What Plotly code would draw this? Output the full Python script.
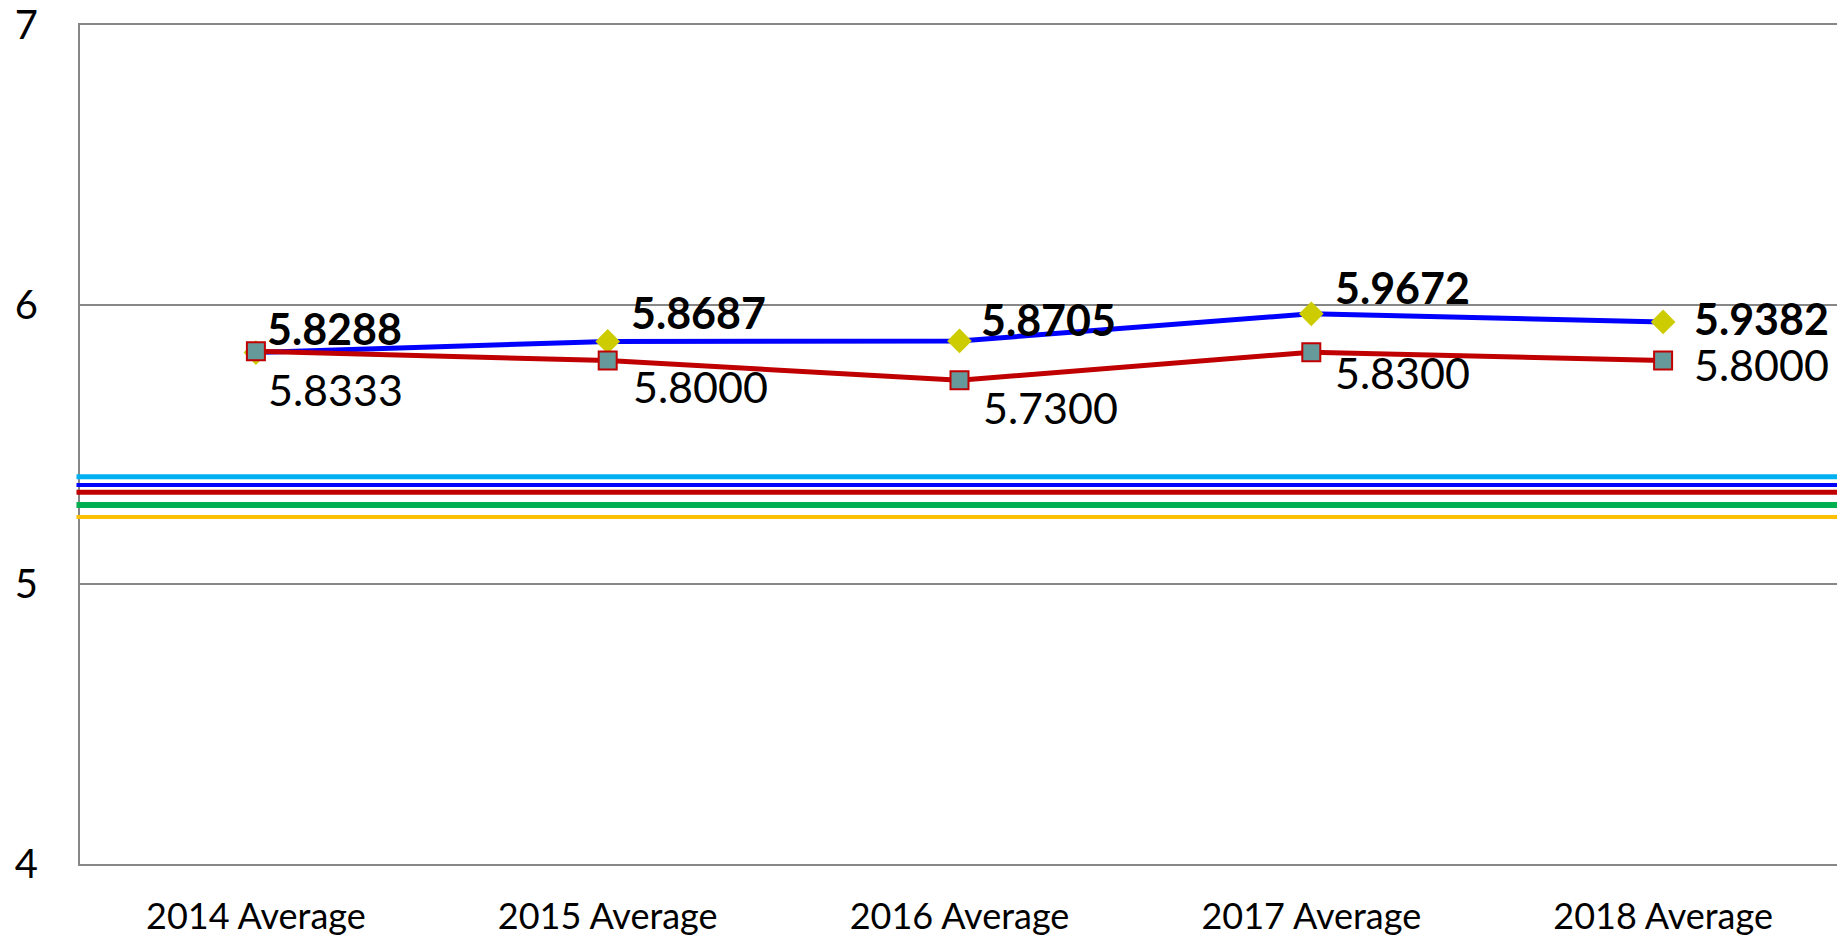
import plotly.graph_objects as go

categories = ["2014 Average", "2015 Average", "2016 Average", "2017 Average", "2018 Average"]
series_a = [5.8288, 5.8687, 5.8705, 5.9672, 5.9382]   # blue line, diamond markers
series_b = [5.8333, 5.8000, 5.7300, 5.8300, 5.8000]   # red line, square markers
ref_values = [5.385, 5.355, 5.329, 5.284, 5.241]
ref_colors = ["#00B0F0", "#0000FF", "#C00000", "#00B050", "#FFC000"]
ref_widths = [5, 4, 5, 6, 4]
y_ticks = [4, 5, 6, 7]

# label offsets (pixels): (dx to left edge, dy of centre; positive = down)
off_a = [(9, -24), (21, -29), (19, -21), (22, -26), (29, -3)]
off_b = [(10, 38), (23, 26), (21, 27), (22, 20), (29, 4)]

FONT = "Lato"

fig = go.Figure()

for v, c, w in zip(ref_values, ref_colors, ref_widths):
    fig.add_shape(type="line", xref="paper", yref="y", x0=-0.002, x1=1.0, y0=v, y1=v,
                  line=dict(color=c, width=w), layer="above")

fig.add_trace(go.Scatter(x=categories, y=series_a, mode="lines+markers",
                         line=dict(color="#0000FF", width=5),
                         marker=dict(symbol="diamond", size=19, color="#CCCC00",
                                     line=dict(color="#CCCC00", width=0)),
                         showlegend=False))
fig.add_trace(go.Scatter(x=categories, y=series_b, mode="lines+markers",
                         line=dict(color="#C00000", width=5),
                         marker=dict(symbol="square", size=18, color="#669999",
                                     line=dict(color="#C00000", width=2)),
                         showlegend=False))

for i, (c, v) in enumerate(zip(categories, series_a)):
    dx, dy = off_a[i]
    fig.add_annotation(x=c, y=v, text="<b>%.4f</b>" % v, showarrow=False,
                       xanchor="left", yanchor="middle", xshift=dx, yshift=-dy,
                       font=dict(family=FONT, size=43, color="black"))
for i, (c, v) in enumerate(zip(categories, series_b)):
    dx, dy = off_b[i]
    fig.add_annotation(x=c, y=v, text="%.4f" % v, showarrow=False,
                       xanchor="left", yanchor="middle", xshift=dx, yshift=-dy,
                       font=dict(family=FONT, size=43, color="black"))

# page body has an 8px margin; compensate so the plot sits where the reference does
fig.update_layout(
    width=1837, height=929,
    margin=dict(l=72, r=6, t=17, b=73, autoexpand=False),
    paper_bgcolor="white", plot_bgcolor="white",
    font=dict(family=FONT, color="black"),
)
fig.update_xaxes(type="category", range=[-0.5, 4.5], showgrid=False, automargin=False,
                 showline=True, mirror=True, linecolor="#878787", linewidth=2,
                 ticks="", tickfont=dict(size=36, family=FONT),
                 ticklabelstandoff=20)
fig.update_yaxes(range=[4, 7], tickvals=y_ticks, showgrid=True, automargin=False,
                 gridcolor="#878787", gridwidth=1.5,
                 showline=True, linecolor="#878787", linewidth=2,
                 zeroline=False, ticks="", tickfont=dict(size=40, family=FONT),
                 ticklabelstandoff=32, ticklabeloverflow="allow")

fig.write_html("out.html")
